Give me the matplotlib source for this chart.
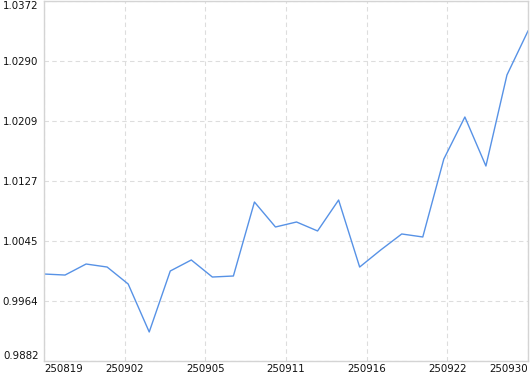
import matplotlib
matplotlib.use("Agg")
import matplotlib.pyplot as plt
import numpy as np

# values (24 points)
values = [1.00004, 0.99990, 1.00140, 1.00099, 0.99868, 0.99215, 1.00045, 1.00195,
          0.99963, 0.99977, 1.00984, 1.00644, 1.00712, 1.00590, 1.01011, 1.00099,
          1.00331, 1.00549, 1.00508, 1.01569, 1.02141, 1.01474, 1.02713, 1.03312]
x_labels = ['250819', '250902', '250905', '250911', '250916', '250922', '250930']
y_ticks = [0.9882, 0.9964, 1.0045, 1.0127, 1.0209, 1.0290, 1.0372]

x = np.arange(len(values))

fig = plt.figure(figsize=(5.30, 3.74), dpi=100)
ax = fig.add_axes([44 / 530, 13 / 374, 484 / 530, 360 / 374])

ax.plot(x, values, color='#5792e6', linewidth=1.0)

ax.set_xlim(0, len(values) - 1)
ax.set_ylim(y_ticks[0], y_ticks[-1])

xt = np.linspace(0, len(values) - 1, len(x_labels))
ax.set_xticks(xt)
ax.set_xticklabels(x_labels)
ax.set_yticks(y_ticks)
ax.set_yticklabels(['%.4f' % v for v in y_ticks])

ax.grid(True, color='#dddddd', linestyle=(0, (4, 3)), linewidth=0.8)
ax.tick_params(length=0, labelsize=7.4, colors='#111111', pad=4)
ax.tick_params(axis='x', pad=2)

xl = ax.get_xticklabels()
xl[0].set_ha('left')
xl[-1].set_ha('right')
yl = ax.get_yticklabels()
yl[0].set_va('bottom')
yl[-1].set_va('top')

for s in ax.spines.values():
    s.set_color('#d4d4d4')
    s.set_linewidth(1.0)

fig.savefig('out.png', dpi=100)
